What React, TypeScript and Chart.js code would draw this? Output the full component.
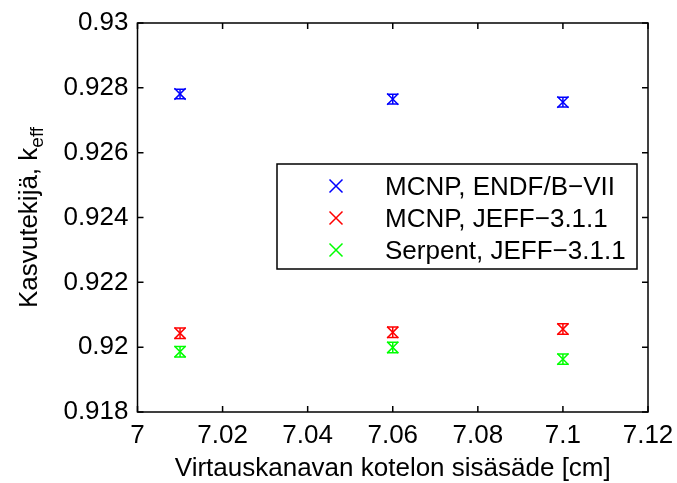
import { useEffect, useRef } from 'react';
import { Chart, registerables } from 'chart.js';

Chart.register(...registerables);

const FONT = '"Liberation Sans", Arial, Helvetica, sans-serif';

// Channel housing inner radius [cm]
const radii = [7.01, 7.06, 7.1];

// Multiplication factor k_eff per code / library
const keffMcnpEndf = [0.92781, 0.92765, 0.92756];
const keffMcnpJeff = [0.92043, 0.92046, 0.92056];
const keffSerpentJeff = [0.91986, 0.91999, 0.91963];

// Statistical uncertainty (1 sigma)
const errMcnpEndf = [0.00015, 0.00015, 0.00015];
const errMcnpJeff = [0.00016, 0.00016, 0.00016];
const errSerpentJeff = [0.00016, 0.00016, 0.00016];

const seriesLabels = ['MCNP, ENDF/B\u2212VII', 'MCNP, JEFF\u22123.1.1', 'Serpent, JEFF\u22123.1.1'];
const seriesColors = ['#0000ff', '#ff0000', '#00ff00'];

const xTicks = [7, 7.02, 7.04, 7.06, 7.08, 7.1, 7.12];
const xTickLabels = ['7', '7.02', '7.04', '7.06', '7.08', '7.1', '7.12'];
const yTicks = [0.918, 0.92, 0.922, 0.924, 0.926, 0.928, 0.93];
const yTickLabels = ['0.918', '0.92', '0.922', '0.924', '0.926', '0.928', '0.93'];

const xTitle = 'Virtauskanavan kotelon sisäsäde [cm]';
const yTitleMain = 'Kasvutekijä, k';
const yTitleSub = 'eff';

const seriesValues = [keffMcnpEndf, keffMcnpJeff, keffSerpentJeff];
const seriesErrors = [errMcnpEndf, errMcnpJeff, errSerpentJeff];

const framePlugin = {
  id: 'matlabFrame',
  afterDatasetsDraw(chart: any) {
    const ctx = chart.ctx;
    const xs = chart.scales.x;
    const ys = chart.scales.y;
    ctx.save();
    ctx.lineWidth = 1.5;
    seriesValues.forEach((vals, i) => {
      ctx.strokeStyle = seriesColors[i];
      vals.forEach((v, j) => {
        const x = xs.getPixelForValue(radii[j]);
        const yt = ys.getPixelForValue(v + seriesErrors[i][j]);
        const yb = ys.getPixelForValue(v - seriesErrors[i][j]);
        const cap = 5.5;
        ctx.beginPath();
        ctx.moveTo(x, yt);
        ctx.lineTo(x, yb);
        ctx.moveTo(x - cap, yt);
        ctx.lineTo(x + cap, yt);
        ctx.moveTo(x - cap, yb);
        ctx.lineTo(x + cap, yb);
        ctx.stroke();
      });
    });
    ctx.restore();
  },
  afterDraw(chart: any) {
    const ctx = chart.ctx;
    const { left, right, top, bottom } = chart.chartArea;
    const xs = chart.scales.x;
    const ys = chart.scales.y;
    ctx.save();

    // axes box
    ctx.strokeStyle = '#000';
    ctx.lineWidth = 1.5;
    ctx.strokeRect(left, top, right - left, bottom - top);

    // inward tick marks on all four sides
    const tl = 6;
    ctx.beginPath();
    xTicks.forEach((v) => {
      const x = xs.getPixelForValue(v);
      ctx.moveTo(x, bottom);
      ctx.lineTo(x, bottom - tl);
      ctx.moveTo(x, top);
      ctx.lineTo(x, top + tl);
    });
    yTicks.forEach((v) => {
      const y = ys.getPixelForValue(v);
      ctx.moveTo(left, y);
      ctx.lineTo(left + tl, y);
      ctx.moveTo(right, y);
      ctx.lineTo(right - tl, y);
    });
    ctx.stroke();

    // axis titles
    ctx.fillStyle = '#000';
    ctx.font = `26px ${FONT}`;
    ctx.textAlign = 'center';
    ctx.textBaseline = 'alphabetic';
    ctx.fillText(xTitle, (left + right) / 2, chart.height - 7);

    ctx.save();
    ctx.translate(37, (top + bottom) / 2);
    ctx.rotate(-Math.PI / 2);
    ctx.textAlign = 'left';
    ctx.font = `26px ${FONT}`;
    const wMain = ctx.measureText(yTitleMain).width;
    ctx.font = `19px ${FONT}`;
    const wSub = ctx.measureText(yTitleSub).width;
    const start = -(wMain + wSub) / 2;
    ctx.font = `26px ${FONT}`;
    ctx.fillText(yTitleMain, start, 0);
    ctx.font = `19px ${FONT}`;
    ctx.fillText(yTitleSub, start + wMain, 6);
    ctx.restore();

    // legend
    const lx = 277;
    const ly = 164;
    const lw = 360;
    const lh = 105;
    ctx.fillStyle = '#fff';
    ctx.fillRect(lx, ly, lw, lh);
    ctx.strokeStyle = '#000';
    ctx.lineWidth = 1.5;
    ctx.strokeRect(lx, ly, lw, lh);
    ctx.font = `26px ${FONT}`;
    ctx.textAlign = 'left';
    ctx.textBaseline = 'alphabetic';
    chart.data.datasets.forEach((ds: any, i: number) => {
      const cy = ly + 22 + i * 32;
      const cx = lx + 59;
      const r = 6.5;
      ctx.strokeStyle = ds.borderColor;
      ctx.lineWidth = 1.5;
      ctx.beginPath();
      ctx.moveTo(cx - r, cy - r);
      ctx.lineTo(cx + r, cy + r);
      ctx.moveTo(cx - r, cy + r);
      ctx.lineTo(cx + r, cy - r);
      ctx.stroke();
      ctx.fillStyle = '#000';
      ctx.fillText(ds.label, lx + 108, cy + 9);
    });
    ctx.restore();
  },
};

export default function App() {
  const canvasRef = useRef<HTMLCanvasElement | null>(null);

  useEffect(() => {
    if (!canvasRef.current) return;
    const chart = new Chart(canvasRef.current, {
      type: 'scatter',
      data: {
        datasets: seriesValues.map((vals, i) => ({
          label: seriesLabels[i],
          data: vals.map((v, j) => ({ x: radii[j], y: v })),
          showLine: false,
          pointStyle: 'crossRot',
          pointRadius: 8,
          pointHoverRadius: 8,
          borderWidth: 1.5,
          borderColor: seriesColors[i],
          backgroundColor: seriesColors[i],
        })),
      },
      options: {
        animation: false,
        responsive: true,
        maintainAspectRatio: false,
        layout: { padding: { left: 0, top: 23, right: 29, bottom: 0 } },
        plugins: {
          legend: { display: false },
          tooltip: { enabled: false },
        },
        scales: {
          x: {
            type: 'linear',
            min: 7,
            max: 7.12,
            grid: { display: false, drawTicks: false },
            border: { display: false },
            afterBuildTicks: (scale: any) => {
              scale.ticks = xTicks.map((v) => ({ value: v }));
            },
            afterFit: (scale: any) => {
              scale.height = 71;
              scale.paddingLeft = 0;
              scale.paddingRight = 0;
            },
            ticks: {
              padding: 8,
              color: '#000',
              font: { family: FONT, size: 26 },
              maxRotation: 0,
              autoSkip: false,
              callback: (_v: any, i: number) => xTickLabels[i],
            },
          },
          y: {
            type: 'linear',
            min: 0.918,
            max: 0.93,
            grid: { display: false, drawTicks: false },
            border: { display: false },
            afterBuildTicks: (scale: any) => {
              scale.ticks = yTicks.map((v) => ({ value: v }));
            },
            afterFit: (scale: any) => {
              scale.width = 137.5;
              scale.paddingTop = 0;
              scale.paddingBottom = 0;
            },
            ticks: {
              padding: 9,
              color: '#000',
              font: { family: FONT, size: 26 },
              autoSkip: false,
              callback: (_v: any, i: number) => yTickLabels[i],
            },
          },
        },
      },
      plugins: [framePlugin],
    });
    return () => chart.destroy();
  }, []);

  return (
    <div style={{ position: 'fixed', left: 0, top: 0, width: 677, height: 483, background: '#fff' }}>
      <canvas ref={canvasRef} />
    </div>
  );
}
